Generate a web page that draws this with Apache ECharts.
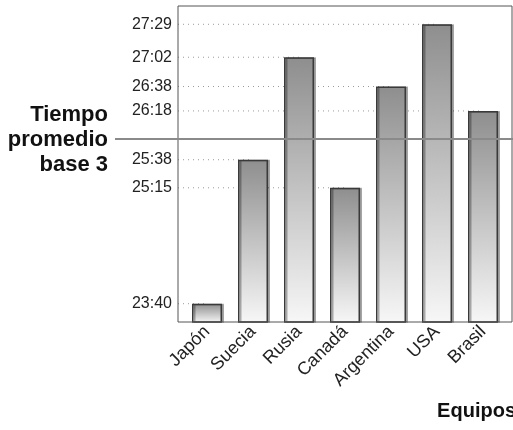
<!DOCTYPE html>
<html><head><meta charset="utf-8">
<script src="https://cdn.jsdelivr.net/npm/echarts@6/dist/echarts.min.js"></script>
<style>html,body{margin:0;padding:0;background:#fff}#c{width:513px;height:430px}</style>
</head><body><div id="c"></div>
<script>
const equipos = ['Japón','Suecia','Rusia','Canadá','Argentina','USA','Brasil'];
const tiempos = ['23:40','25:38','27:02','25:15','26:38','27:29','26:18'];
const tickLabels = ['23:40','25:15','25:38','26:18','26:38','27:02','27:29'];
const promedio = '25:55';
const ejeMin = '23:25';
const ejeMax = '27:44';

const toSec = t => { const p = t.split(':').map(Number); return p[0]*60 + p[1]; };
const fmt = v => { const m = Math.floor(v/60), s = Math.round(v - m*60); return m + ':' + String(s).padStart(2,'0'); };
const values = tiempos.map(toSec);
const ticks = tickLabels.map(toSec);

const chart = echarts.init(document.getElementById('c'));
const FONT = '"Liberation Sans", Arial, sans-serif';
chart.setOption({
  animation: false,
  grid: {left: 184, right: 7, top: 6, bottom: 108},
  xAxis: {
    type: 'category', data: equipos,
    axisLine: {show: false}, axisTick: {show: false},
    axisLabel: {rotate: 45, interval: 0, fontSize: 18, color: '#222', fontFamily: FONT, margin: 7}
  },
  yAxis: {
    type: 'value', min: toSec(ejeMin), max: toSec(ejeMax), offset: 6,
    axisLine: {show: false}, axisTick: {show: false}, splitLine: {show: false},
    axisLabel: {customValues: ticks, formatter: fmt, fontSize: 16, color: '#222', fontFamily: FONT, margin: 6}
  },
  series: [
    {
      type: 'custom', z: 1, silent: true,
      data: values.map((v, i) => [i, v]),
      renderItem: (params, api) => {
        const p = api.coord([api.value(0), api.value(1)]);
        const x0 = params.coordSys.x - 6;
        return {type: 'line', shape: {x1: x0, y1: p[1], x2: p[0], y2: p[1]},
          style: {stroke: '#9a9a9a', lineWidth: 1, lineDash: [1, 4]}};
      }
    },
    {
      type: 'bar', z: 3, barWidth: 30, data: values,
      itemStyle: {
        color: new echarts.graphic.LinearGradient(0, 0, 0, 1, [
          {offset: 0, color: '#8e8e8e'}, {offset: 1, color: '#f7f7f7'}
        ]),
        borderColor: '#3a3a3a', borderWidth: 1.5,
        shadowColor: 'rgba(0,0,0,0.3)', shadowOffsetX: 2, shadowBlur: 0
      }
    }
  ]
});

const yAvg = chart.convertToPixel({yAxisIndex: 0}, toSec(promedio));
const tStyle = {font: 'bold 22px ' + FONT, fill: '#111', textAlign: 'right', textVerticalAlign: 'middle'};
chart.setOption({
  graphic: [
    {type: 'rect', z: 5, silent: true, shape: {x: 178, y: 6, width: 334, height: 316},
      style: {fill: 'none', stroke: '#555', lineWidth: 1}},
    {type: 'line', z: 20, silent: true, shape: {x1: 115, y1: yAvg, x2: 513, y2: yAvg},
      style: {stroke: '#8a8a8a', lineWidth: 2}},
    {type: 'text', z: 20, x: 108, y: yAvg - 24, style: Object.assign({text: 'Tiempo'}, tStyle)},
    {type: 'text', z: 20, x: 108, y: yAvg + 1, style: Object.assign({text: 'promedio'}, tStyle)},
    {type: 'text', z: 20, x: 108, y: yAvg + 26, style: Object.assign({text: 'base 3'}, tStyle)},
    {type: 'text', z: 20, x: 516, y: 411, style: {text: 'Equipos', font: 'bold 20px ' + FONT, fill: '#111', textAlign: 'right', textVerticalAlign: 'middle'}}
  ]
});
</script></body></html>
